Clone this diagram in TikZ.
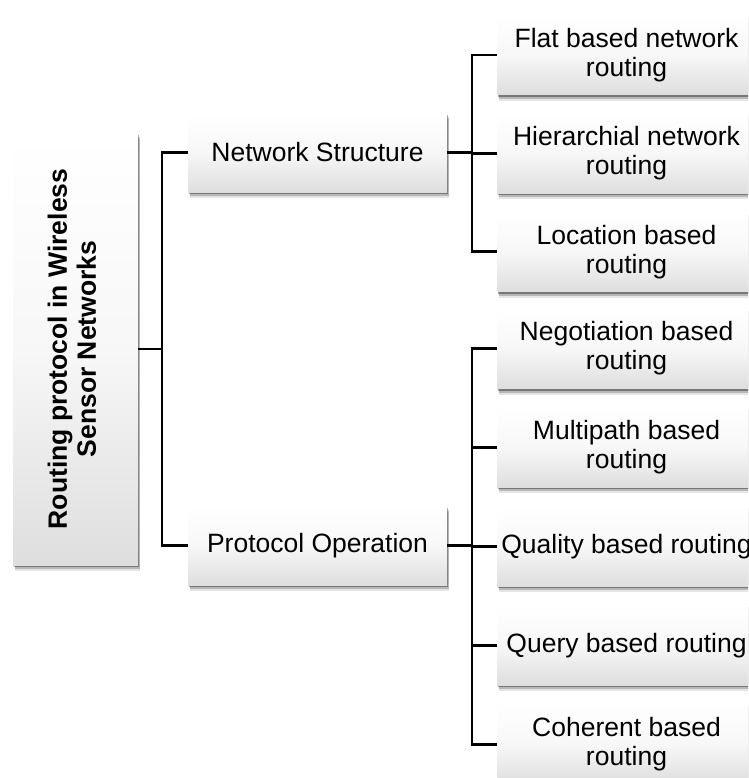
\documentclass[tikz,border=0pt]{standalone}
\usepackage{fontspec}
\setmainfont{Liberation Sans}
\usetikzlibrary{positioning, shadows}

\begin{document}
\begin{tikzpicture}[
  x=1pt, y=-1pt,
  every node/.style={font=\fontsize{26.5}{29}\selectfont},
  cell/.style     = {align=center, inner sep=2pt, top color=white, bottom color=black!13,
                     middle color=white!97!black,
                     drop shadow={shadow xshift=2pt, shadow yshift=-6pt, opacity=.1, fill=black},
                     drop shadow={shadow xshift=1.5pt, shadow yshift=-4pt, opacity=.2, fill=black},
                     drop shadow={shadow xshift=1pt, shadow yshift=-2pt, opacity=.35, fill=black}},
  rootcell/.style = {cell, minimum width=125pt, minimum height=432pt},
  branch/.style   = {cell, minimum width=259pt, minimum height=79pt},
  leaf/.style     = {cell, minimum width=259pt, minimum height=80pt},
  wire/.style     = {line width=2.8pt, black},
]
  \useasboundingbox (0,0) rectangle (748,778);
  \clip (0,0) rectangle (748,778);
  % Root of the tree, text turned to read upwards.
  \node[rootcell] (root) at (75.5,349)
    {\rotatebox{90}{\bfseries\begin{tabular}{@{}c@{}}Routing protocol in Wireless\\Sensor Networks\end{tabular}}};
  % Two families of protocols.
  \node[branch] (net)   at (317.5,152.5) {Network Structure};
  \node[branch] (proto) at (317.5,545.5) {Protocol Operation};
  % Leaves under network structure.
  \node[leaf]                     (flat)  at (626.5,55) {Flat based network\\routing};
  \node[leaf, below=18pt of flat] (hier)  {Hierarchial network\\routing};
  \node[leaf, below=18pt of hier] (loc)   {Location based\\routing};
  % Leaves under protocol operation.
  \node[leaf]                        (nego)  at (626.5,348.5) {Negotiation based\\routing};
  \node[leaf, below=18.5pt of nego]  (multi) {Multipath based\\routing};
  \node[leaf, below=18.5pt of multi] (qual)  {Quality based routing};
  \node[leaf, below=18.5pt of qual]  (query) {Query based routing};
  \node[leaf, below=18.5pt of query] (coh)   {Coherent based\\routing};
  % Elbow connectors from each parent to its children.
  \coordinate (trunk) at (162,0);
  \coordinate (upper) at (472,0);
  \coordinate (lower) at (472,0);
  \foreach \b in {net, proto}
    \draw[wire] (root.east) -- (trunk |- root.east) |- (\b.west);
  \foreach \b in {flat, hier, loc}
    \draw[wire] (net.east) -- (upper |- net.east) |- (\b.west);
  \foreach \b in {nego, multi, qual, query, coh}
    \draw[wire] (proto.east) -- (lower |- proto.east) |- (\b.west);
\end{tikzpicture}
\end{document}
